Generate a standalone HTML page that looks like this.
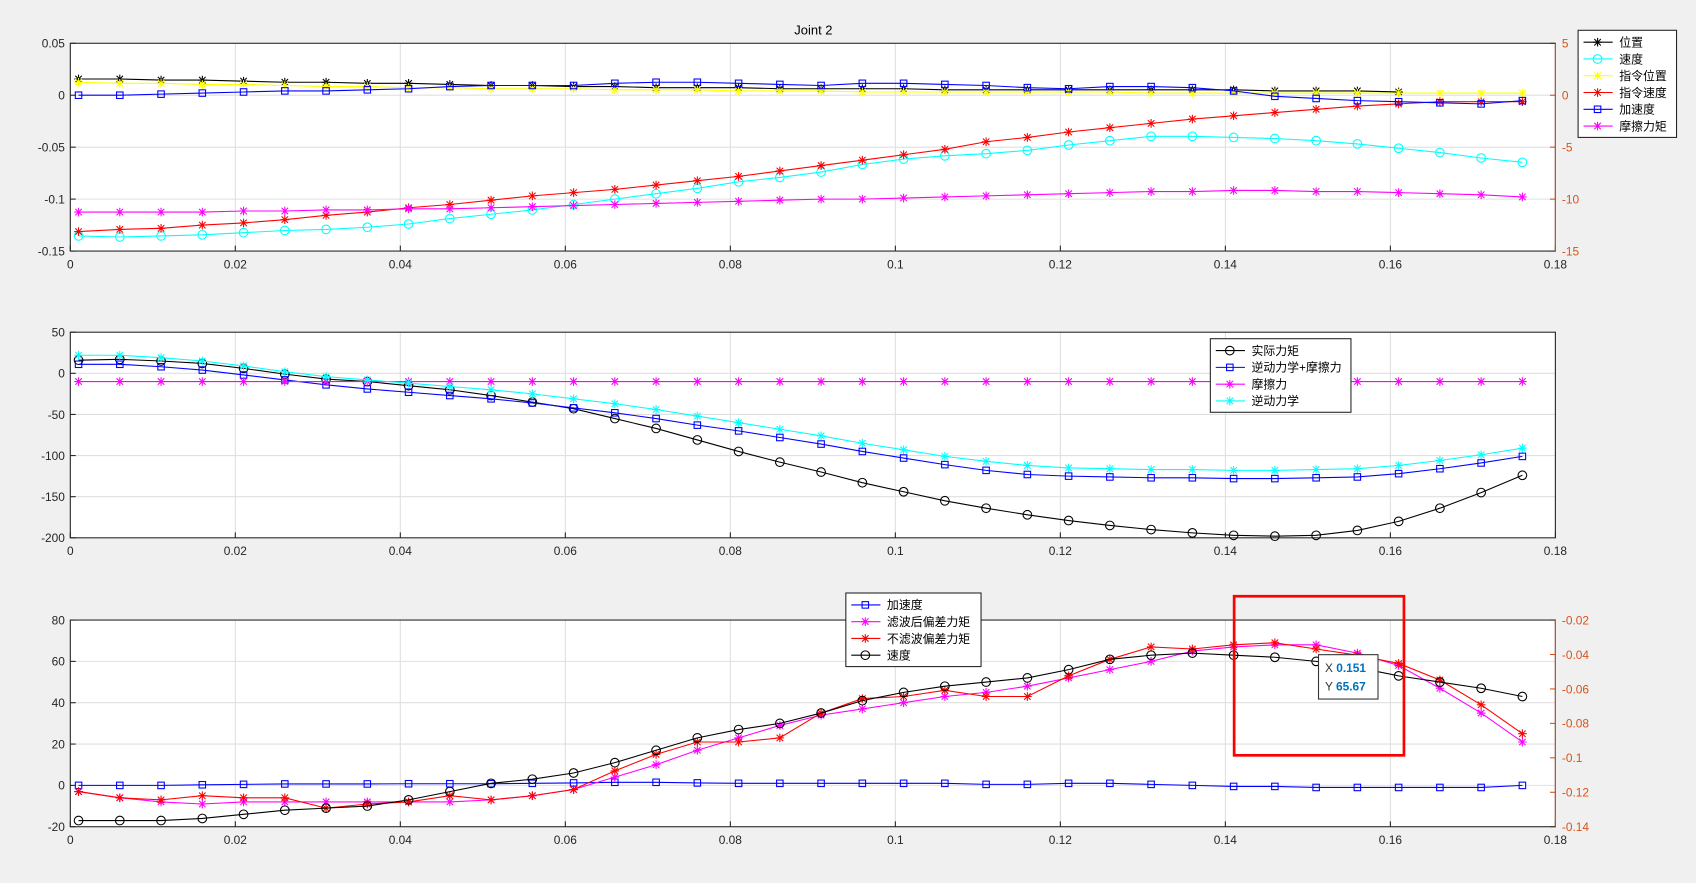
<!DOCTYPE html>
<html><head><meta charset="utf-8">
<style>html,body{margin:0;padding:0;background:#f0f0f0;overflow:hidden}
svg{display:block;font-family:"Liberation Sans","Noto Sans CJK SC",sans-serif}</style></head>
<body>
<svg id="s" width="1696" height="883" viewBox="0 0 1568 816" preserveAspectRatio="none" xmlns="http://www.w3.org/2000/svg"></svg>
<script>
const S=document.getElementById('s');let h='';
const X0=65,X1=1438;const xp=v=>X0+(X1-X0)*v/0.18;
const xs=[];for(let i=0;i<36;i++)xs.push(0.001+0.005*i);
function axes(t,b,lt,rt){ // lt: [min,max,step] left, rt right or null
 h+=`<rect x="${X0}" y="${t}" width="${X1-X0}" height="${b-t}" fill="#fff"/>`;
 for(let i=0;i<=9;i++){const x=xp(i*0.02);h+=`<line x1="${x}" y1="${t}" x2="${x}" y2="${b}" stroke="#dfdfdf"/>`;
  h+=`<line x1="${x}" y1="${b}" x2="${x}" y2="${b-5}" stroke="#262626"/>`;
  h+=`<text x="${x}" y="${b+16}" font-size="11" text-anchor="middle" fill="#262626">${i==0?'0':(i*0.02).toFixed(2).replace(/0$/,'').replace(/^0/,'0')}</text>`;}
 const [a0,a1,st]=lt;const n=Math.round((a1-a0)/st);
 for(let k=0;k<=n;k++){const v=a0+k*st;const y=b-(b-t)*k/n;if(k>0&&k<n)h+=`<line x1="${X0}" y1="${y}" x2="${X1}" y2="${y}" stroke="#dfdfdf"/>`;
  h+=`<line x1="${X0}" y1="${y}" x2="${X0+5}" y2="${y}" stroke="#262626"/>`;
  h+=`<text x="${X0-5}" y="${y+4}" font-size="11" text-anchor="end" fill="#262626">${+v.toFixed(3)}</text>`;}
 if(rt){const [r0,r1,rs]=rt;const m=Math.round((r1-r0)/rs);
  for(let k=0;k<=m;k++){const v=r0+k*rs;const y=b-(b-t)*k/m;
   h+=`<line x1="${X1}" y1="${y}" x2="${X1-5}" y2="${y}" stroke="#D95319"/>`;
   h+=`<text x="${X1+6}" y="${y+4}" font-size="11" fill="#D95319">${+v.toFixed(3)}</text>`;}}
 h+=`<rect x="${X0}" y="${t}" width="${X1-X0}" height="${b-t}" fill="none" stroke="#262626"/>`;
 if(rt)h+=`<line x1="${X1}" y1="${t}" x2="${X1}" y2="${b}" stroke="#D95319"/>`;
}
function mk(type,x,y,c){
 if(type=='o')return `<circle cx="${x}" cy="${y}" r="4" fill="none" stroke="${c}"/>`;
 if(type=='s')return `<rect x="${x-3}" y="${y-3}" width="6" height="6" fill="none" stroke="${c}"/>`;
 let r=`<path d="M${x-4} ${y}H${x+4}M${x} ${y-4}V${y+4}M${x-3} ${y-3}L${x+3} ${y+3}M${x-3} ${y+3}L${x+3} ${y-3}" stroke="${c}"/>`;
 return r;}
function ser(ys,c,type,map,n){n=n||ys.length;let p='';const pts=[];
 for(let i=0;i<n;i++){const x=xp(xs[i]),y=map(ys[i]);pts.push(x+','+y);}
 h+=`<polyline points="${pts.join(' ')}" fill="none" stroke="${c}"/>`;
 for(let i=0;i<n;i++)h+=mk(type,xp(xs[i]),map(ys[i]),c);}
function legend(x,y,w,items){const lh=15.5;
 h+=`<rect x="${x}" y="${y}" width="${w}" height="${items.length*lh+6}" fill="#fff" stroke="#262626"/>`;
 items.forEach((it,i)=>{const yy=y+11+i*lh;h+=`<line x1="${x+5}" y1="${yy}" x2="${x+32}" y2="${yy}" stroke="${it[1]}"/>`+mk(it[2],x+18,yy,it[1]);
  h+=`<text x="${x+38}" y="${yy+4}" font-size="11" fill="#000">${it[0]}</text>`;});}
// plot 1
axes(40,232,[-0.15,0.05,0.05],[-15,5,5]);
h+=`<text x="752" y="32" font-size="12" text-anchor="middle" fill="#000">Joint  2</text>`;
const id=v=>v;
ser([73,73,74,74,75,76,76,77,77,78,79,79,80,80,81,81,81,82,82,82,82,83,83,83,83,83,83,83,83,84,84,84,85],'#000','*',id);
ser([218,219,218,217,215,213,212,210,207,202,198,194,189,184,179,174,168,164,159,152,147,144,142,139,134,130,126,126,127,128,130,133,137,141,146,150],'#0ff','o',id);
ser([76,77,77,78,78,79,80,80,81,81,82,82,82,83,83,83,84,84,84,85,85,85,85,85,85,85,86,86,86,86,86,86,86,86,86,86],'#ff0','*',id);
ser([214,212,211,208,206,203,199,196,192,189,185,181,178,175,171,167,163,158,153,148,143,138,131,127,122,118,114,110,107,104,101,98,96,94,94,94],'#f00','*',id);
ser([88,88,87,86,85,84,84,83,82,80,79,79,79,77,76,76,77,78,79,77,77,78,79,81,82,80,80,81,84,89,91,93,94,95,96,93],'#00f','s',id);
ser([196,196,196,196,195,195,194,194,193,193,192,191,190,189,188,187,186,185,184,184,183,182,181,180,179,178,177,177,176,176,177,177,178,179,180,182],'#f0f','*',id);
legend(1459,28,91,[['位置','#000','*'],['速度','#0ff','o'],['指令位置','#ff0','*'],['指令速度','#f00','*'],['加速度','#00f','s'],['摩擦力矩','#f0f','*']]);
// plot 2
axes(307,497,[-200,50,50],null);
const m2=v=>497-(v+200)*190/250;
ser([16,17,15,12,6,-1,-7,-10,-15,-20,-27,-35,-43,-55,-67,-81,-95,-108,-120,-133,-144,-155,-164,-172,-179,-185,-190,-194,-197,-198,-197,-191,-180,-164,-145,-124],'#000','o',m2);
ser([11,11,8,4,-2,-8,-14,-19,-23,-27,-31,-36,-42,-48,-55,-63,-70,-78,-86,-95,-103,-111,-118,-123,-125,-126,-127,-127,-128,-128,-127,-126,-122,-116,-109,-101],'#00f','s',m2);
ser(xs.map(()=>-10),'#f0f','*',m2);
ser([22,22,19,15,9,2,-4,-8,-12,-16,-20,-25,-31,-37,-44,-52,-60,-68,-76,-85,-93,-101,-107,-112,-115,-116,-117,-117,-118,-118,-117,-116,-112,-106,-99,-91],'#0ff','*',m2);
legend(1119,313,130,[['实际力矩','#000','o'],['逆动力学+摩擦力','#00f','s'],['摩擦力','#f0f','*'],['逆动力学','#0ff','*']]);
// plot 3
axes(573,764,[-20,80,20],[-0.14,-0.02,0.02]);
const m3=v=>764-(v+20)*191/100;
ser([0,0,0,0.3,0.5,0.7,0.7,0.7,0.8,0.8,0.8,1,1.2,1.5,1.5,1.2,1,1,1,1,1,1,0.5,0.5,1,1,0.5,0,-0.5,-0.5,-1,-1,-1,-1,-1,0],'#00f','s',m3);
ser([-3,-6,-8,-9,-8,-8,-8,-8,-8,-8,-7,-5,-2,4,10,17,23,29,34,37,40,43,45,48,52,56,60,65,67,68,68,64,58,47,35,21],'#f0f','*',m3);
ser([-3,-6,-7,-5,-6,-6,-11,-9,-8,-5,-7,-5,-2,7,15,21,21,23,35,42,43,46,43,43,53,61,67,66,68,69,66,63,59,51,39,25],'#f00','*',m3);
ser([-17,-17,-17,-16,-14,-12,-11,-10,-7,-3,1,3,6,11,17,23,27,30,35,41,45,48,50,52,56,61,63,64,63,62,60,57,53,50,47,43],'#000','o',m3);
legend(782,548,125,[['加速度','#00f','s'],['滤波后偏差力矩','#f0f','*'],['不滤波偏差力矩','#f00','*'],['速度','#000','o']]);
h+=`<rect x="1141" y="551" width="157" height="147" fill="none" stroke="#f00" stroke-width="2.5"/>`;
h+=`<rect x="1219" y="605" width="55" height="41" fill="#fff" stroke="#333"/>`;
h+=`<text x="1225" y="621" font-size="11" fill="#333">X <tspan fill="#0072BD" font-weight="bold">0.151</tspan></text>`;
h+=`<text x="1225" y="638" font-size="11" fill="#333">Y <tspan fill="#0072BD" font-weight="bold">65.67</tspan></text>`;
S.innerHTML=h;
</script>
</body></html>
